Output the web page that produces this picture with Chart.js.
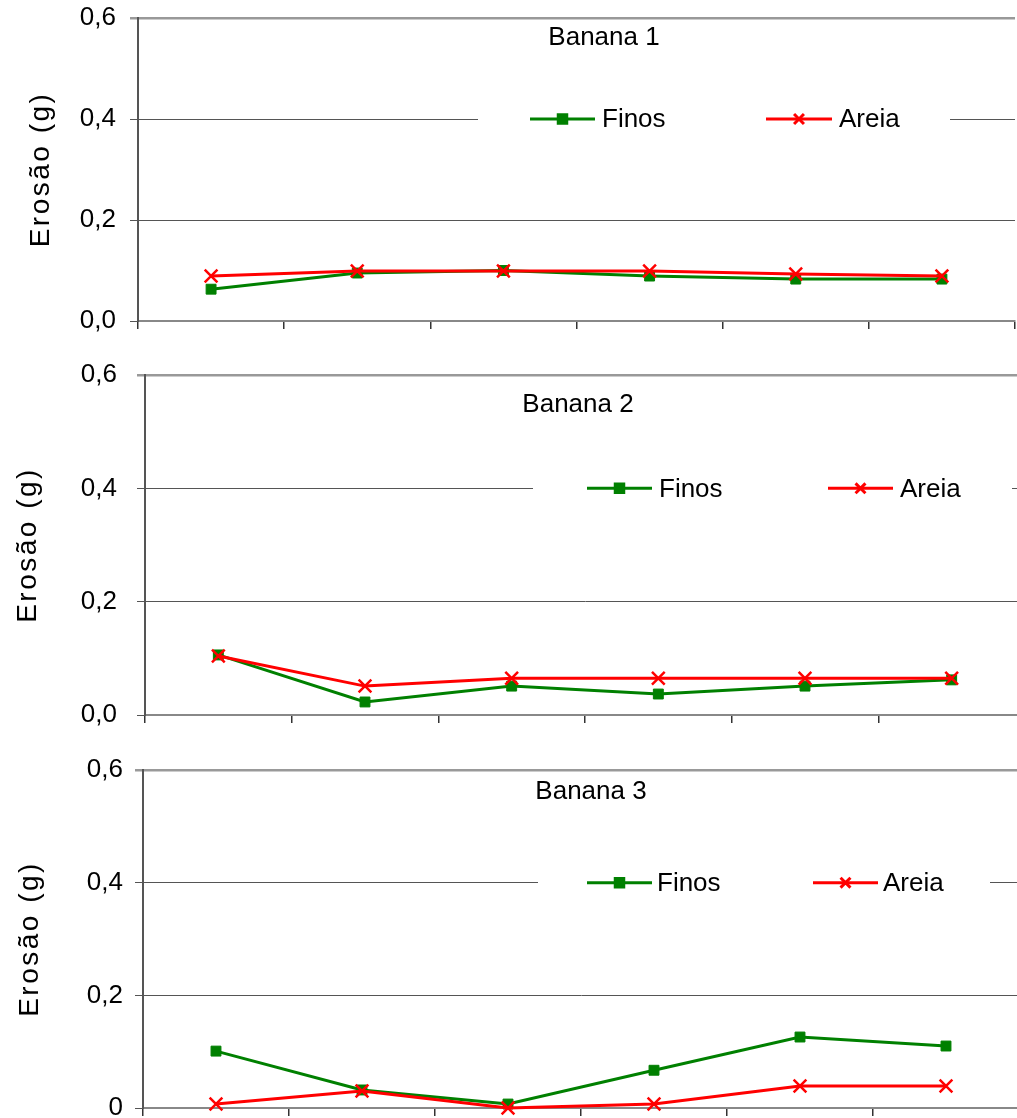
<!DOCTYPE html>
<html>
<head>
<meta charset="utf-8">
<script src="https://cdn.jsdelivr.net/npm/chart.js@4/dist/chart.umd.min.js"></script>
<style>
  html,body{margin:0;padding:0;background:#fff;overflow:hidden;width:1017px;height:1118px}
  canvas{position:absolute;left:0}
</style>
</head>
<body>
<canvas id="c1" width="1017" height="350" style="top:0"></canvas>
<canvas id="c2" width="1027" height="400" style="top:345px"></canvas>
<canvas id="c3" width="1021" height="373" style="top:745px"></canvas>
<script>
// categorias (sem rótulos visíveis no eixo x)
const categories = ['1','2','3','4','5','6'];
const seriesNames = ['Finos','Areia'];

const finos1 = [0.063, 0.095, 0.100, 0.089, 0.083, 0.083];
const areia1 = [0.089, 0.099, 0.099, 0.099, 0.093, 0.089];
const finos2 = [0.106, 0.023, 0.051, 0.037, 0.051, 0.062];
const areia2 = [0.104, 0.051, 0.065, 0.065, 0.065, 0.065];
const finos3 = [0.101, 0.032, 0.007, 0.067, 0.126, 0.110];
const areia3 = [0.007, 0.030, 0.000, 0.007, 0.039, 0.039];

const yTicks12 = ['0,0','0,2','0,4','0,6'];
const yTicks3  = ['0','0,2','0,4','0,6'];
const titles   = ['Banana 1','Banana 2','Banana 3'];
const yTitle   = 'Erosão (g)';

const FONT = '"Liberation Sans", Arial, sans-serif';

// título, eixo y e legenda sobre a linha de 0,4
const overlay = {
  id: 'overlay',
  afterDatasetsDraw(chart, args, o) {
    const ctx = chart.ctx, a = chart.chartArea, ys = chart.scales.y;
    ctx.save();
    ctx.fillStyle = '#000';
    ctx.textBaseline = 'middle';
    ctx.textAlign = 'center';
    ctx.font = '26px ' + FONT;
    ctx.fillText(o.title, o.titleX, a.top + o.titleDy);

    ctx.save();
    ctx.translate(o.yTitleX, (a.top + a.bottom) / 2);
    ctx.rotate(-Math.PI / 2);
    ctx.font = '28px ' + FONT;
    ctx.letterSpacing = '2.5px';
    ctx.fillText(yTitle, 0, 0);
    ctx.restore();

    const ly = ys.getPixelForValue(0.4);
    ctx.fillStyle = '#fff';
    ctx.fillRect(o.gap[0], ly - 16, o.gap[1] - o.gap[0], 32);
    ctx.textAlign = 'left';
    ctx.font = '26px ' + FONT;
    chart.data.datasets.forEach((ds, i) => {
      const [x0, x1, tx] = o.items[i];
      ctx.strokeStyle = ds.borderColor;
      ctx.fillStyle = ds.borderColor;
      ctx.lineWidth = 3;
      ctx.beginPath(); ctx.moveTo(x0, ly); ctx.lineTo(x1, ly); ctx.stroke();
      Chart.helpers.drawPoint(ctx, {
        pointStyle: ds.pointStyle, rotation: 0,
        radius: ds.pointStyle === 'rect' ? 6 : 7,
        borderWidth: ds.pointStyle === 'rect' ? 1 : 2.5
      }, (x0 + x1) / 2, ly);
      ctx.fillStyle = '#000';
      ctx.fillText(ds.label, tx, ly + 1);
    });
    ctx.restore();
  }
};

function makeChart(id, finos, areia, tickLabels, L) {
  new Chart(document.getElementById(id), {
    type: 'line',
    data: {
      labels: categories,
      datasets: [
        { label: seriesNames[0], data: finos, borderColor: '#008000', backgroundColor: '#008000',
          borderWidth: 3, pointStyle: 'rect', pointRadius: 7, pointBorderWidth: 1, order: 2, clip: false },
        { label: seriesNames[1], data: areia, borderColor: '#ff0000', backgroundColor: '#ff0000',
          borderWidth: 3, pointStyle: 'crossRot', pointRadius: 9, pointBorderWidth: 2.5, order: 1, clip: false }
      ]
    },
    options: {
      responsive: false, animation: false, devicePixelRatio: 1,
      layout: { autoPadding: false, padding: { top: L.padTop, right: L.padRight, left: 0, bottom: 0 } },
      plugins: { legend: { display: false }, tooltip: { enabled: false }, title: { display: false }, overlay: L },
      scales: {
        x: {
          offset: true,
          ticks: { display: false },
          grid: { offset: true, drawOnChartArea: false, drawTicks: true, tickLength: 8, color: '#333', lineWidth: 1.5 },
          border: { color: '#888', width: 2 },
          afterFit: s => { s.height = L.xH; s.paddingLeft = 0; s.paddingRight = 0; }
        },
        y: {
          min: 0, max: 0.6,
          ticks: { stepSize: 0.2, padding: L.tickPad, color: '#000', font: { size: 26, family: FONT },
            callback: (v, i) => tickLabels[i] },
          grid: {
            tickLength: 8,
            color: c => Math.abs(c.tick.value - 0.6) < 1e-6 ? '#999' : '#555',
            lineWidth: c => Math.abs(c.tick.value - 0.6) < 1e-6 ? 2.5 : 1
          },
          border: { color: '#555', width: 2 },
          afterFit: s => { s.width = L.yW; s.paddingTop = 0; s.paddingBottom = 0; }
        }
      }
    },
    plugins: [overlay]
  });
}

makeChart('c1', finos1, areia1, yTicks12, {
  padTop: 18, padRight: 2, xH: 29, yW: 138, tickPad: 14,
  title: titles[0], titleX: 604, titleDy: 20, yTitleX: 41,
  gap: [478, 950], items: [[530, 595, 602], [766, 832, 839]]
});
makeChart('c2', finos2, areia2, yTicks12, {
  padTop: 30, padRight: 2, xH: 30, yW: 145, tickPad: 20,
  title: titles[1], titleX: 578, titleDy: 30, yTitleX: 28,
  gap: [533, 1012], items: [[587, 652, 659], [828, 893, 900]]
});
makeChart('c3', finos3, areia3, yTicks3, {
  padTop: 25, padRight: 2, xH: 10, yW: 143, tickPad: 12,
  title: titles[2], titleX: 591, titleDy: 22, yTitleX: 30,
  gap: [538, 990], items: [[587, 652, 657], [813, 878, 883]]
});
</script>
</body>
</html>
